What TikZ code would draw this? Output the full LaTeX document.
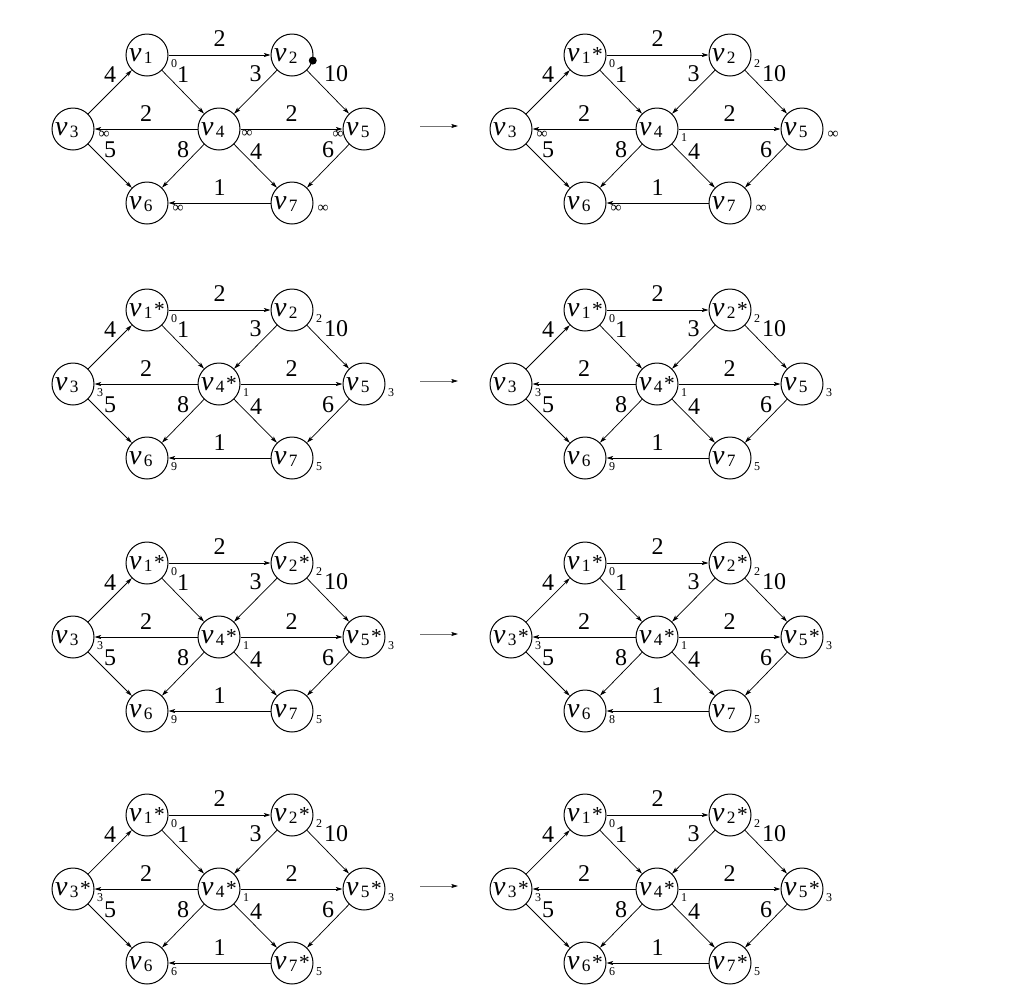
\documentclass[tikz,border=0pt]{standalone}
\usepackage{fontspec}
\setmainfont{Liberation Serif}[ItalicFont={Liberation Serif Italic}]
\newfontfamily\ital{Liberation Serif Italic}
\usetikzlibrary{arrows.meta}

\tikzset{
  vtx/.style={circle, draw, line width=0.75pt, minimum size=31.5pt, inner sep=0pt},
  edg/.style={line width=0.55pt, -{Stealth[length=5pt,width=3pt,inset=1.2pt]}},
  wt/.style={font=\fontsize{18}{18}\selectfont, inner sep=0pt},
  dst/.style={font=\fontsize{9}{9}\selectfont, inner sep=0pt},
  inf/.style={font=\fontsize{11.5}{11.5}\selectfont, inner sep=0pt},
  dotmark/.style={circle, fill, inner sep=0pt, minimum size=6pt},
  betweenarrow/.style={line width=0.6pt, black!55, -{Stealth[length=5pt,width=3pt,inset=1pt,black]}}
}

\newcommand\St{{\fontsize{16}{16}\selectfont *}}
\newcommand\Ns{\phantom{\St}}
\newcommand\vlab[2]{\raisebox{-4.5pt}[0pt][0pt]{\makebox[0pt]{\fontsize{21}{21}\selectfont{\ital v}\kern1.8pt\raisebox{-1.8pt}{\fontsize{13}{13}\selectfont #1}\kern1.2pt#2}}}

% nodes of one graph
\newcommand\Gnodes[9]{%
  \begin{scope}[shift={(#2)}]
    \node[vtx] (#1v1) at (147,55)  {\vlab{1}{#3}};
    \node[vtx] (#1v2) at (292,55)  {\vlab{2}{#4}};
    \node[vtx] (#1v3) at (73,129)  {\vlab{3}{#5}};
    \node[vtx] (#1v4) at (219,129) {\vlab{4}{#6}};
    \node[vtx] (#1v5) at (364,129) {\vlab{5}{#7}};
    \node[vtx] (#1v6) at (147,203) {\vlab{6}{#8}};
    \node[vtx] (#1v7) at (292,203) {\vlab{7}{#9}};
  \end{scope}}

% edges of one graph
\newcommand\Gedges[1]{%
  \draw[edg] (#1v1) -- node[wt,yshift=12pt]{2} (#1v2);
  \draw[edg] (#1v1) -- node[wt,yshift=13pt]{1} (#1v4);
  \draw[edg] (#1v3) -- node[wt,yshift=13pt]{4} (#1v1);
  \draw[edg] (#1v2) -- node[wt,yshift=13.5pt]{3} (#1v4);
  \draw[edg] (#1v2) -- node[wt,yshift=13.5pt,xshift=6pt]{10} (#1v5);
  \draw[edg] (#1v4) -- node[wt,yshift=11.5pt]{2} (#1v3);
  \draw[edg] (#1v4) -- node[wt,yshift=11.5pt]{2} (#1v5);
  \draw[edg] (#1v3) -- node[wt,yshift=12pt]{5} (#1v6);
  \draw[edg] (#1v4) -- node[wt,yshift=12pt]{8} (#1v6);
  \draw[edg] (#1v4) -- node[wt,yshift=11pt,xshift=0.5pt]{4} (#1v7);
  \draw[edg] (#1v5) -- node[wt,yshift=12pt]{6} (#1v7);
  \draw[edg] (#1v7) -- node[wt,yshift=11.5pt]{1} (#1v6);}

% small distance labels
\newcommand\dl[3]{\node[dst] (#1) at ([shift={(27,9)}]#2) {#3};}
\newcommand\il[2]{\node[inf] (#1) at ([shift={(31,6)}]#2) {∞};}
\newcommand\Gdist[8]{%
  \dl{#1d1}{#1v1}{#2}\dl{#1d2}{#1v2}{#3}\dl{#1d3}{#1v3}{#4}\dl{#1d4}{#1v4}{#5}%
  \dl{#1d5}{#1v5}{#6}\dl{#1d6}{#1v6}{#7}\dl{#1d7}{#1v7}{#8}}

\begin{document}
\begin{tikzpicture}[x=0.75pt,y=-0.75pt]
\useasboundingbox[fill=white] (0,0) rectangle (1024,997);

% ---------- row 1 ----------
\Gnodes{a}{0,0}{\Ns}{\Ns}{\Ns}{\Ns}{\Ns}{\Ns}{\Ns}
\Gedges{a}
\dl{ad1}{av1}{0}
\node[dotmark] (ad2) at (av2.-15) {};
\il{ad3}{av3}
\node[inf] (ad4) at ([shift={(28,5)}]av4) {∞};
\node[inf] (ad5) at ([shift={(-26,6)}]av5) {∞};
\il{ad6}{av6}
\il{ad7}{av7}

\Gnodes{b}{438,0}{\St}{\Ns}{\Ns}{\Ns}{\Ns}{\Ns}{\Ns}
\Gedges{b}
\dl{bd1}{bv1}{0}
\dl{bd2}{bv2}{2}
\il{bd3}{bv3}
\dl{bd4}{bv4}{1}
\il{bd5}{bv5}
\il{bd6}{bv6}
\il{bd7}{bv7}

\coordinate (r1s) at (420,126); \coordinate (r1e) at (458,126);
\draw[betweenarrow] (r1s) -- (r1e);

% ---------- row 2 ----------
\Gnodes{c}{0,255}{\St}{\Ns}{\Ns}{\St}{\Ns}{\Ns}{\Ns}
\Gedges{c}
\Gdist{c}{0}{2}{3}{1}{3}{9}{5}

\Gnodes{d}{438,255}{\St}{\St}{\Ns}{\St}{\Ns}{\Ns}{\Ns}
\Gedges{d}
\Gdist{d}{0}{2}{3}{1}{3}{9}{5}

\coordinate (r2s) at (420,381); \coordinate (r2e) at (458,381);
\draw[betweenarrow] (r2s) -- (r2e);

% ---------- row 3 ----------
\Gnodes{e}{0,508}{\St}{\St}{\Ns}{\St}{\St}{\Ns}{\Ns}
\Gedges{e}
\Gdist{e}{0}{2}{3}{1}{3}{9}{5}

\Gnodes{f}{438,508}{\St}{\St}{\St}{\St}{\St}{\Ns}{\Ns}
\Gedges{f}
\Gdist{f}{0}{2}{3}{1}{3}{8}{5}

\coordinate (r3s) at (420,634); \coordinate (r3e) at (458,634);
\draw[betweenarrow] (r3s) -- (r3e);

% ---------- row 4 ----------
\Gnodes{g}{0,760}{\St}{\St}{\St}{\St}{\St}{\Ns}{\St}
\Gedges{g}
\Gdist{g}{0}{2}{3}{1}{3}{6}{5}

\Gnodes{h}{438,760}{\St}{\St}{\St}{\St}{\St}{\St}{\St}
\Gedges{h}
\Gdist{h}{0}{2}{3}{1}{3}{6}{5}

\coordinate (r4s) at (420,886); \coordinate (r4e) at (458,886);
\draw[betweenarrow] (r4s) -- (r4e);
\end{tikzpicture}
\end{document}
